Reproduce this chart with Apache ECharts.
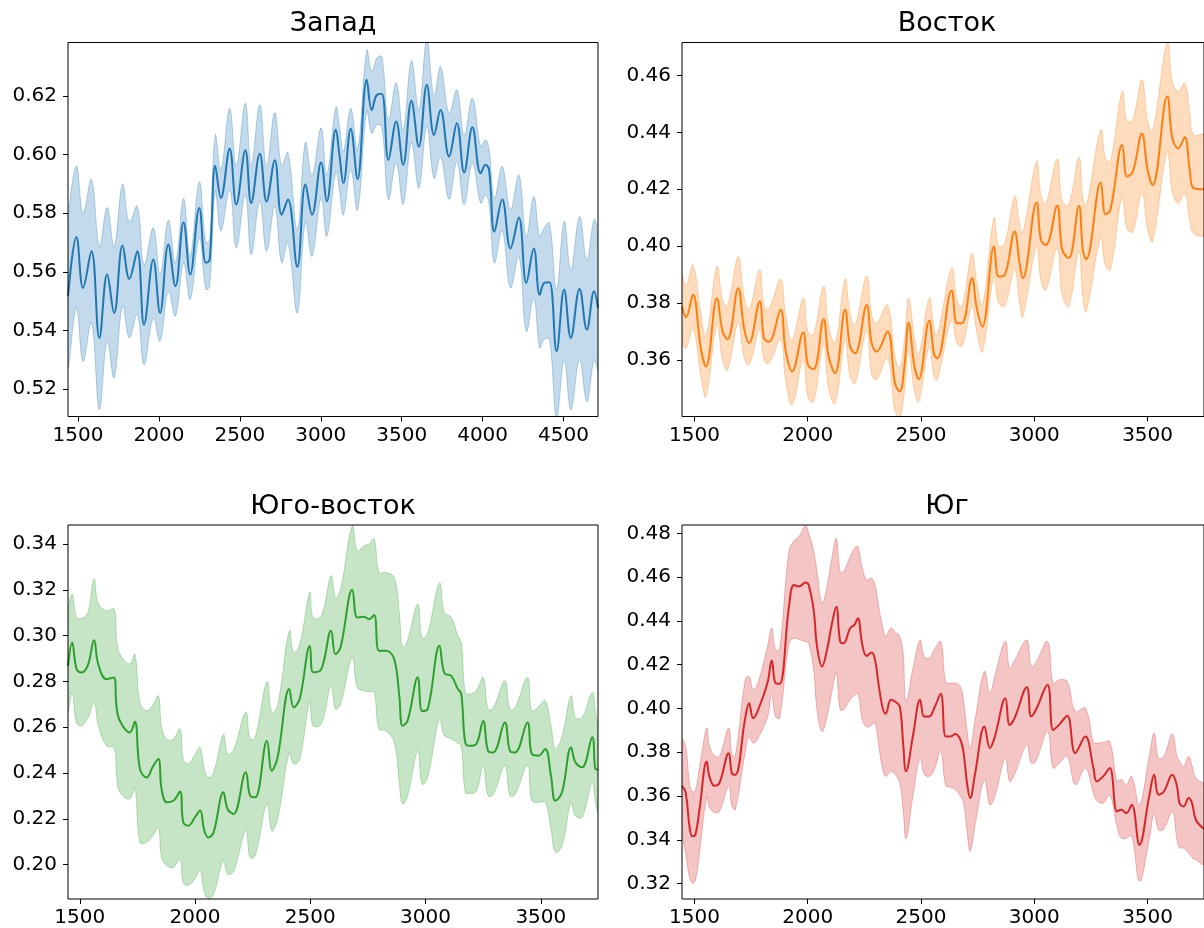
<!DOCTYPE html>
<html>
<head>
<meta charset="utf-8">
<script src="https://cdn.jsdelivr.net/npm/echarts@6/dist/echarts.min.js"></script>
<style>
  html, body { margin: 0; padding: 0; background: #ffffff; }
  #chart { width: 1204px; height: 928px; }
</style>
</head>
<body>
<div id="chart"></div>
<script>
// ---- Запад ----
const westX = [1438,1490,1531,1583,1632,1680,1723,1775,1817,1866,1908,1965,2007,2058,2102,2152,2193,2249,2290,2313,2348,2383,2437,2478,2534,2570,2623,2665,2716,2758,2797,2855,2905,2946,3002,3037,3093,3115,3140,3185,3227,3284,3315,3346,3377,3418,3466,3509,3560,3606,3655,3700,3740,3793,3841,3886,3937,3988,4018,4040,4073,4121,4172,4224,4270,4316,4353,4380,4413,4457,4504,4545,4599,4644,4689,4713];
const westMean = [.5517,.5719,.5545,.5670,.5375,.5591,.5460,.5690,.5576,.5670,.5420,.5642,.5460,.5693,.5551,.5769,.5591,.5818,.5631,.5640,.5962,.5852,.6020,.5830,.6015,.5835,.6003,.5840,.5981,.5795,.5847,.5617,.5899,.5795,.5973,.5840,.6085,.6000,.5903,.6088,.5917,.6255,.6152,.6203,.6207,.5982,.6113,.5965,.6183,.6027,.6238,.6067,.6152,.5993,.6107,.5939,.6093,.5936,.5965,.5948,.5737,.5847,.5680,.5785,.5562,.5680,.5522,.5562,.5565,.5330,.5540,.5375,.5542,.5403,.5534,.5477];
const westUpper = [.5744,.5961,.5800,.5915,.5687,.5820,.5687,.5898,.5770,.5824,.5625,.5750,.5591,.5776,.5631,.5850,.5653,.5906,.5699,.5710,.6067,.5948,.6158,.5961,.6175,.5963,.6170,.5961,.6143,.5961,.6007,.5744,.6041,.5927,.6091,.5931,.6161,.6100,.6010,.6158,.6016,.6355,.6283,.6328,.6334,.6118,.6245,.6084,.6320,.6152,.6390,.6198,.6300,.6141,.6220,.6067,.6192,.6027,.6050,.6016,.5851,.5959,.5811,.5930,.5721,.5857,.5721,.5750,.5766,.5539,.5772,.5607,.5789,.5641,.5778,.5721];
const westLower = [.5278,.5477,.5295,.5426,.5131,.5364,.5239,.5483,.5375,.5455,.5284,.5443,.5364,.5534,.5449,.5631,.5506,.5716,.5540,.5550,.5874,.5739,.5880,.5682,.5863,.5659,.5840,.5670,.5824,.5631,.5699,.5460,.5772,.5653,.5852,.5721,.5942,.5880,.5794,.5948,.5811,.6147,.6073,.6101,.6095,.5847,.5972,.5830,.6039,.5885,.6095,.5919,.5993,.5847,.5976,.5830,.5970,.5834,.5863,.5830,.5631,.5739,.5545,.5653,.5397,.5511,.5341,.5370,.5370,.5100,.5300,.5130,.5300,.5158,.5300,.5267];
const westXTicks = [1500, 2000, 2500, 3000, 3500, 4000, 4500];
const westYTicks = [0.52, 0.54, 0.56, 0.58, 0.60, 0.62];

// ---- Восток ----
const eastX = [1445,1463,1493,1529,1551,1599,1624,1646,1693,1719,1741,1788,1807,1829,1880,1902,1931,1980,2001,2026,2070,2092,2121,2165,2187,2209,2260,2282,2304,2352,2385,2406,2428,2445,2471,2490,2536,2558,2572,2635,2659,2681,2725,2746,2771,2822,2843,2870,2913,2935,2949,3010,3029,3051,3101,3123,3152,3197,3214,3229,3293,3314,3336,3388,3409,3435,3475,3500,3522,3587,3609,3635,3664,3686,3703,3749];
const eastMean = [.3788,.3750,.3829,.3635,.3577,.3817,.3700,.3673,.3852,.3711,.3659,.3805,.3676,.3664,.3776,.3635,.3559,.3696,.3582,.3567,.3743,.3612,.3553,.3776,.3647,.3623,.3793,.3659,.3629,.3700,.3518,.3489,.3588,.3731,.3577,.3532,.3738,.3618,.3606,.3844,.3729,.3729,.3887,.3782,.3717,.3999,.3893,.3899,.4051,.3940,.3887,.4153,.4022,.4004,.4142,.3987,.3958,.4142,.3987,.3954,.4224,.4112,.4128,.4356,.4245,.4262,.4395,.4268,.4215,.4526,.4380,.4344,.4383,.4268,.4204,.4200];
const eastUpper = [.3899,.3858,.3934,.3760,.3682,.3928,.3810,.3790,.3963,.3820,.3776,.3917,.3790,.3780,.3884,.3760,.3670,.3817,.3700,.3690,.3858,.3720,.3659,.3884,.3760,.3723,.3895,.3760,.3729,.3793,.3610,.3571,.3680,.3817,.3680,.3618,.3817,.3710,.3688,.3922,.3810,.3788,.3973,.3870,.3793,.4098,.3999,.4010,.4174,.4080,.4045,.4298,.4180,.4150,.4306,.4160,.4145,.4312,.4170,.4139,.4409,.4310,.4298,.4544,.4440,.4446,.4585,.4440,.4403,.4720,.4580,.4544,.4573,.4470,.4391,.4390];
const eastLower = [.3664,.3641,.3711,.3540,.3471,.3723,.3600,.3565,.3729,.3610,.3582,.3706,.3600,.3588,.3670,.3530,.3442,.3600,.3470,.3453,.3653,.3500,.3448,.3670,.3540,.3518,.3700,.3550,.3530,.3606,.3420,.3395,.3500,.3635,.3490,.3453,.3647,.3540,.3530,.3741,.3660,.3647,.3788,.3700,.3629,.3893,.3800,.3790,.3917,.3800,.3752,.3999,.3880,.3846,.3993,.3830,.3788,.3981,.3820,.3770,.4028,.3930,.3917,.4174,.4060,.4051,.4186,.4060,.4016,.4333,.4190,.4151,.4186,.4090,.4045,.4040];
const eastXTicks = [1500, 2000, 2500, 3000, 3500];
const eastYTicks = [0.36, 0.38, 0.40, 0.42, 0.44, 0.46];

// ---- Юго-восток ----
const seX = [1449,1467,1486,1507,1535,1562,1580,1616,1649,1659,1674,1717,1739,1761,1790,1819,1841,1855,1877,1906,1935,1949,1971,2000,2022,2040,2058,2080,2123,2141,2167,2220,2239,2261,2312,2333,2358,2409,2428,2454,2498,2512,2548,2590,2609,2631,2682,2704,2733,2755,2777,2798,2828,2864,2886,2900,2922,2966,2985,3009,3060,3082,3111,3140,3155,3172,3191,3220,3250,3271,3293,3344,3366,3388,3442,3461,3490,3519,3544,3563,3592,3631,3650,3679,3723,3737,3748];
const seMean = [.2868,.2970,.2854,.2839,.2870,.2980,.2876,.2810,.2817,.2694,.2628,.2577,.2624,.2417,.2381,.2432,.2461,.2330,.2272,.2279,.2319,.2185,.2170,.2207,.2236,.2150,.2119,.2140,.2316,.2243,.2221,.2403,.2301,.2294,.2541,.2410,.2468,.2767,.2687,.2723,.2955,.2840,.2854,.3021,.2919,.2948,.3200,.3079,.3082,.3072,.3090,.2934,.2934,.2897,.2737,.2607,.2628,.2817,.2671,.2679,.2956,.2835,.2825,.2767,.2745,.2534,.2519,.2527,.2627,.2497,.2490,.2621,.2497,.2490,.2621,.2483,.2476,.2505,.2388,.2279,.2316,.2512,.2447,.2425,.2556,.2417,.2415];
const seUpper = [.3087,.3181,.3079,.3075,.3100,.3247,.3140,.3108,.3116,.2992,.2920,.2876,.2919,.2708,.2672,.2700,.2737,.2600,.2548,.2548,.2592,.2460,.2440,.2480,.2512,.2420,.2381,.2400,.2567,.2483,.2500,.2665,.2548,.2556,.2799,.2665,.2694,.3021,.2927,.2960,.3188,.3079,.3085,.3261,.3167,.3200,.3479,.3370,.3392,.3400,.3421,.3276,.3276,.3254,.3100,.2948,.2980,.3137,.2990,.3010,.3229,.3100,.3080,.3000,.2970,.2752,.2745,.2760,.2817,.2679,.2683,.2803,.2679,.2685,.2817,.2672,.2690,.2716,.2607,.2505,.2560,.2737,.2643,.2643,.2752,.2665,.2592];
const seLower = [.2665,.2752,.2621,.2605,.2640,.2708,.2610,.2519,.2508,.2400,.2316,.2287,.2337,.2097,.2097,.2130,.2163,.2030,.1996,.1988,.2025,.1920,.1910,.1940,.1974,.1880,.1853,.1870,.2017,.1959,.1970,.2148,.2030,.2039,.2265,.2148,.2199,.2490,.2439,.2460,.2716,.2607,.2615,.2781,.2679,.2700,.2905,.2774,.2759,.2755,.2752,.2592,.2585,.2534,.2359,.2265,.2300,.2497,.2352,.2380,.2636,.2563,.2550,.2530,.2519,.2316,.2310,.2320,.2432,.2301,.2305,.2432,.2301,.2305,.2432,.2279,.2272,.2272,.2156,.2054,.2083,.2272,.2214,.2207,.2359,.2272,.2228];
const seXTicks = [1500, 2000, 2500, 3000, 3500];
const seYTicks = [0.20, 0.22, 0.24, 0.26, 0.28, 0.30, 0.32, 0.34];

// ---- Юг ----
const southX = [1445,1461,1478,1490,1504,1522,1554,1566,1588,1610,1651,1665,1680,1724,1741,1759,1778,1822,1841,1858,1876,1917,1939,1961,1990,2004,2026,2041,2063,2085,2107,2126,2143,2158,2187,2206,2221,2241,2260,2282,2297,2311,2329,2344,2367,2385,2406,2421,2434,2464,2496,2514,2536,2558,2587,2609,2630,2652,2674,2688,2703,2717,2739,2780,2804,2826,2872,2891,2913,2967,2986,3007,3058,3083,3109,3145,3181,3225,3261,3275,3304,3333,3365,3384,3406,3430,3464,3507,3529,3548,3572,3609,3630,3641,3659,3681,3696,3713,3749];
const southMean = [.3647,.3617,.3462,.3416,.3424,.3538,.3758,.3690,.3647,.3659,.3796,.3705,.3697,.3956,.4024,.3956,.3986,.4116,.4219,.4116,.4113,.4465,.4564,.4557,.4575,.4564,.4450,.4283,.4192,.4268,.4389,.4465,.4306,.4298,.4367,.4382,.4412,.4290,.4240,.4256,.4222,.4123,.4009,.3976,.4040,.4032,.4009,.3842,.3713,.3872,.4040,.3963,.3963,.4001,.4067,.3872,.3872,.3884,.3857,.3796,.3659,.3591,.3705,.3918,.3819,.3872,.4047,.3925,.3956,.4097,.3963,.3994,.4108,.3902,.3925,.3967,.3796,.3872,.3728,.3667,.3690,.3728,.3530,.3538,.3522,.3560,.3378,.3598,.3697,.3606,.3621,.3697,.3644,.3568,.3553,.3591,.3568,.3492,.3450];
const southUpper = [.3857,.3827,.3659,.3620,.3625,.3730,.3910,.3830,.3785,.3781,.3910,.3790,.3781,.4131,.4146,.4085,.4110,.4280,.4367,.4268,.4271,.4720,.4765,.4785,.4835,.4800,.4720,.4625,.4480,.4557,.4690,.4777,.4625,.4625,.4693,.4730,.4740,.4640,.4587,.4595,.4564,.4480,.4380,.4330,.4367,.4350,.4329,.4250,.4030,.4180,.4313,.4237,.4230,.4268,.4306,.4120,.4116,.4116,.4100,.4032,.3900,.3819,.3950,.4169,.4070,.4150,.4306,.4184,.4220,.4313,.4192,.4210,.4306,.4116,.4131,.4123,.3986,.4002,.3842,.3842,.3845,.3849,.3667,.3675,.3652,.3690,.3560,.3780,.3887,.3773,.3781,.3884,.3781,.3760,.3735,.3781,.3740,.3682,.3650];
const southLower = [.3446,.3340,.3230,.3203,.3215,.3340,.3598,.3550,.3525,.3530,.3644,.3555,.3538,.3800,.3870,.3842,.3860,.3960,.4062,.3963,.3956,.4298,.4321,.4315,.4305,.4298,.4176,.3994,.3895,.3963,.4080,.4161,.3994,.3994,.4040,.4060,.4070,.3950,.3915,.3925,.3933,.3850,.3730,.3690,.3712,.3700,.3660,.3538,.3405,.3600,.3773,.3700,.3690,.3720,.3804,.3650,.3640,.3629,.3600,.3568,.3440,.3348,.3470,.3675,.3560,.3600,.3773,.3667,.3700,.3834,.3751,.3760,.3895,.3728,.3750,.3781,.3652,.3728,.3614,.3580,.3568,.3606,.3462,.3408,.3408,.3420,.3211,.3400,.3522,.3446,.3450,.3530,.3400,.3363,.3363,.3340,.3320,.3310,.3290];
const southXTicks = [1500, 2000, 2500, 3000, 3500];
const southYTicks = [0.32, 0.34, 0.36, 0.38, 0.40, 0.42, 0.44, 0.46, 0.48];

const FONT = 'DejaVu Sans';
const SMOOTH = 0.4;
const PLOT_W = 530;
const PLOT_H = 374;

const panels = [
  { title: 'Запад', x: westX, mean: westMean, up: westUpper, lo: westLower,
    color: '#1f77b4', rgb: '31,119,180', xMin: 1438, xMax: 4713, yMin: 0.5107, yMax: 0.6382,
    xTicks: westXTicks, yTicks: westYTicks, left: 68, top: 42.5 },
  { title: 'Восток', x: eastX, mean: eastMean, up: eastUpper, lo: eastLower,
    color: '#ff7f0e', rgb: '255,127,14', xMin: 1445, xMax: 3749, yMin: 0.3401, yMax: 0.4716,
    xTicks: eastXTicks, yTicks: eastYTicks, left: 682, top: 42.5 },
  { title: 'Юго-восток', x: seX, mean: seMean, up: seUpper, lo: seLower,
    color: '#2ca02c', rgb: '44,160,44', xMin: 1449, xMax: 3748, yMin: 0.185, yMax: 0.3483,
    xTicks: seXTicks, yTicks: seYTicks, left: 68, top: 525 },
  { title: 'Юг', x: southX, mean: southMean, up: southUpper, lo: southLower,
    color: '#d62728', rgb: '214,39,40', xMin: 1445, xMax: 3749, yMin: 0.313, yMax: 0.4838,
    xTicks: southXTicks, yTicks: southYTicks, left: 682, top: 525 }
];

const pairs = (xs, ys) => xs.map((x, i) => [x, ys[i]]);

const grids = [], xAxes = [], yAxes = [], series = [], titles = [];
const labelStyle = { fontSize: 20, color: '#000', fontFamily: FONT };
const tickStyle = { color: '#000', width: 1 };

panels.forEach((p, i) => {
  grids.push({ left: p.left, top: p.top, width: PLOT_W, height: PLOT_H, show: true, z: 5,
    borderColor: '#000', borderWidth: 1, backgroundColor: 'transparent' });
  xAxes.push({ type: 'value', gridIndex: i, min: p.xMin, max: p.xMax,
    axisLine: { show: false }, splitLine: { show: false },
    axisTick: { show: true, customValues: p.xTicks, length: 5, lineStyle: tickStyle },
    axisLabel: Object.assign({ customValues: p.xTicks, margin: 9,
      formatter: v => String(v) }, labelStyle) });
  yAxes.push({ type: 'value', gridIndex: i, min: p.yMin, max: p.yMax,
    axisLine: { show: false }, splitLine: { show: false },
    axisTick: { show: true, customValues: p.yTicks, length: 5, lineStyle: tickStyle },
    axisLabel: Object.assign({ customValues: p.yTicks, margin: 11,
      formatter: v => Number(v).toFixed(2) }, labelStyle) });

  const edge = 'rgba(' + p.rgb + ',0.30)';
  const fill = 'rgba(' + p.rgb + ',0.27)';
  // spread band: upper edge left to right, lower edge back right to left
  series.push({ type: 'custom', xAxisIndex: i, yAxisIndex: i, clip: true, silent: true, z: 1,
    data: [[p.x[0], p.mean[0]]],
    renderItem: (params, api) => {
      const topEdge = p.x.map((x, k) => api.coord([x, p.up[k]]));
      const bottomEdge = p.x.map((x, k) => api.coord([x, p.lo[k]])).reverse();
      return { type: 'polygon',
        shape: { points: topEdge.concat(bottomEdge), smooth: SMOOTH },
        style: { fill: fill, stroke: edge, lineWidth: 1 } };
    } });
  // mean curve
  series.push({ type: 'line', xAxisIndex: i, yAxisIndex: i, data: pairs(p.x, p.mean),
    smooth: SMOOTH, symbol: 'none', silent: true, z: 2,
    lineStyle: { width: 2, color: p.color } });

  titles.push({ text: p.title, left: p.left + PLOT_W / 2, top: p.top - 32, textAlign: 'center',
    padding: 0, textStyle: { fontSize: 27, fontWeight: 'normal', fontFamily: FONT, color: '#000' } });
});

const chart = echarts.init(document.getElementById('chart'), null, { renderer: 'canvas' });
chart.setOption({
  animation: false,
  backgroundColor: '#ffffff',
  title: titles,
  grid: grids,
  xAxis: xAxes,
  yAxis: yAxes,
  series: series
});
</script>
</body>
</html>
